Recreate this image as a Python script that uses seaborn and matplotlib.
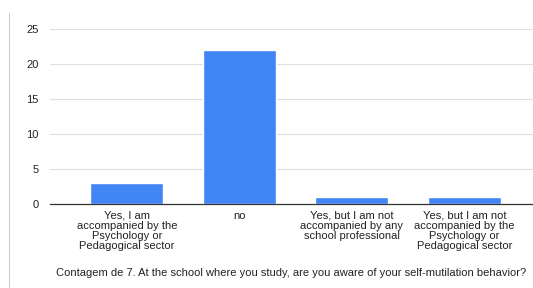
import matplotlib.pyplot as plt
import pandas as pd
import seaborn as sns
from matplotlib.lines import Line2D

# Data
categories = [
    "Yes, I am\naccompanied by the\nPsychology or\nPedagogical sector",
    "no",
    "Yes, but I am not\naccompanied by any\nschool professional",
    "Yes, but I am not\naccompanied by the\nPsychology or\nPedagogical sector",
]
counts = [3, 22, 1, 1]
y_ticks = [0, 5, 10, 15, 20, 25]
x_title = "Contagem de 7. At the school where you study, are you aware of your self-mutilation behavior?"

df = pd.DataFrame({"answer": categories, "count": counts})

sns.set_style("white")
plt.rcParams["font.family"] = ["Liberation Sans", "DejaVu Sans"]

fig = plt.figure(figsize=(5.33, 2.88), dpi=100)
ax = fig.add_axes([50 / 533, 1 - 204 / 288, 483 / 533, 175 / 288])

sns.barplot(data=df, x="answer", y="count", color="#4285F4", saturation=1,
            width=0.65, ax=ax, zorder=3)

ax.set_ylim(0, 25)
ax.set_xlim(-0.684, 3.61)
ax.set_yticks(y_ticks)
ax.yaxis.grid(True, color="#e0e0e0", linewidth=0.8, zorder=0)
ax.set_axisbelow(True)
for s in ["top", "right", "left"]:
    ax.spines[s].set_visible(False)
ax.spines["bottom"].set_color("#333333")
ax.spines["bottom"].set_linewidth(0.9)
ax.spines["bottom"].set_zorder(4)
ax.tick_params(axis="both", length=0, labelsize=8, colors="#222222")
ax.tick_params(axis="y", pad=8)
ax.tick_params(axis="x", pad=5)
for lbl in ax.get_xticklabels():
    lbl.set_linespacing(1.0)
ax.set_ylabel("")
ax.set_xlabel(x_title, fontsize=8, color="#222222", labelpad=12)

# left border of the screenshot
fig.add_artist(Line2D([9 / 533, 9 / 533], [0, 1 - 13 / 288], color="#cccccc", linewidth=0.8))

fig.savefig("out.png", dpi=100)
